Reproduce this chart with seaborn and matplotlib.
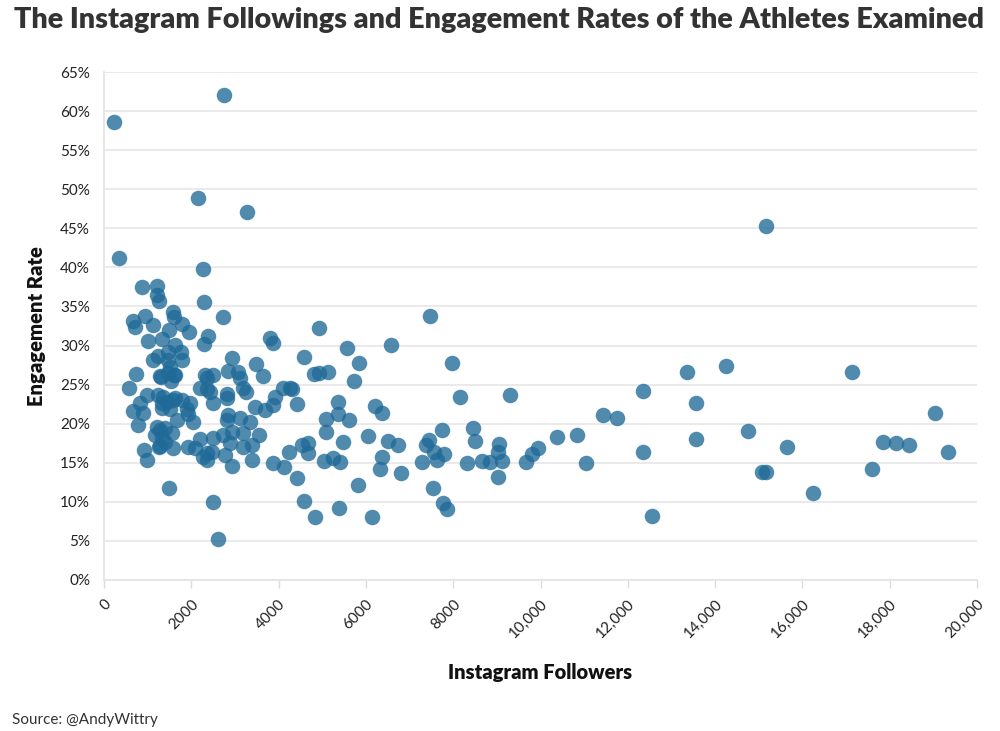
import matplotlib
matplotlib.use("Agg")
import matplotlib.pyplot as plt
import matplotlib.ticker as mticker
import seaborn as sns
import pandas as pd

# Instagram followers of each athlete
followers = [
    229, 2749, 344, 2154, 3276, 2268,
    871, 1214, 1214, 1260, 2291,
    939, 1581, 1604, 664, 710, 1123, 1787, 2726,
    1489, 1947, 2383, 2291, 1008, 1329, 1627,
    1466, 1764, 1237, 1123, 1466, 1787, 1512,
    733, 1604, 1306, 2314, 2497, 2360, 2932, 2841, 3070, 3116,
    1535, 573, 985, 1237, 1352, 1627, 2199, 2360, 2428, 2818, 2818, 3184, 3253,
    1787, 1970, 1329, 825, 664, 893, 1329, 1512, 1901, 2497, 1443, 1581,
    1924, 2039, 1672, 779, 1214, 2841, 2818, 3116,
    1168, 1283, 1397, 1558, 916, 985, 1260, 1397, 1581, 1924, 2085, 2199,
    2497, 2726, 2932, 2887, 2360, 2474, 2360, 2772, 2932, 1329, 1283, 2268,
    1283, 1466, 1627,
    1489, 2497, 2612,
    3803, 3872, 3482, 3643, 4101, 4261, 3918, 3872, 3459, 3688, 4422,
    3345, 3184, 3551, 3391, 3184, 3391, 3872, 4124, 4238,
    4926, 4582, 4811, 4926, 5132, 5567, 6575, 5842, 5727, 7468, 7973,
    4307, 5361, 5361, 5086, 5613, 6209, 6369, 8156,
    5086, 5475, 4536, 4674, 4674, 5040, 5246, 5407,
    6048, 6506, 6735, 6369, 6323, 6804,
    7743, 7446, 7377, 7560, 7789, 7629, 7285, 7537, 7766, 7858,
    4422, 4582, 4834, 5384, 5819, 6140,
    8454, 8499, 8316, 8660, 8843, 9049, 9026, 9118, 9026, 9301, 9668, 9805,
    9943, 10378, 10836, 11042, 11432, 11753, 12348, 12348, 12554,
    13356, 14250, 17136, 13562, 13562, 14754, 15647, 15074, 15166, 16243,
    17595, 19038, 17847, 18144, 18442, 19336, 15166,
]

# Engagement rate (%) of each athlete
engagement = [
    58.6, 62.1, 41.2, 48.9, 47.1, 39.8,
    37.5, 37.6, 36.5, 35.7, 35.6,
    33.8, 34.3, 33.7, 33.1, 32.4, 32.6, 32.8, 33.7,
    32.0, 31.7, 31.2, 30.2, 30.6, 30.8, 30.1,
    29.2, 29.2, 28.7, 28.2, 28.2, 28.2, 27.3,
    26.4, 26.2, 26.0, 26.2, 26.2, 25.8, 28.4, 26.8, 26.6, 25.8,
    25.5, 24.6, 23.7, 23.7, 23.4, 23.3, 24.6, 24.4, 24.1, 23.8, 23.3, 24.6, 24.1,
    23.0, 22.6, 22.6, 22.6, 21.6, 21.4, 22.0, 21.9, 21.9, 22.6, 22.8, 23.0,
    21.2, 20.2, 20.5, 19.8, 19.6, 21.1, 20.5, 20.7,
    18.6, 19.2, 19.4, 18.8, 16.6, 15.4, 17.0, 17.7, 16.9, 17.0, 16.9, 18.0,
    18.2, 18.6, 18.9, 17.5, 16.3, 16.4, 15.4, 16.0, 14.6, 18.2, 17.1, 15.7,
    26.1, 26.5, 26.2,
    11.8, 10.0, 5.2,
    30.9, 30.3, 27.6, 26.1, 24.6, 24.6, 23.4, 22.4, 22.1, 21.8, 22.5,
    20.2, 18.8, 18.6, 17.3, 17.0, 15.4, 15.0, 14.5, 16.4,
    32.2, 28.5, 26.4, 26.5, 26.6, 29.7, 30.1, 27.8, 25.5, 33.8, 27.8,
    24.4, 22.8, 21.2, 20.6, 20.5, 22.3, 21.4, 23.4,
    18.9, 17.7, 17.3, 17.5, 16.3, 15.2, 15.6, 15.1,
    18.4, 17.8, 17.3, 15.7, 14.2, 13.7,
    19.2, 17.9, 17.3, 16.4, 16.1, 15.4, 15.1, 11.8, 9.9, 9.1,
    13.1, 10.1, 8.1, 9.2, 12.2, 8.1,
    19.4, 17.8, 15.0, 15.2, 15.1, 17.4, 16.4, 15.2, 13.2, 23.7, 15.1, 16.1,
    16.9, 18.3, 18.5, 15.0, 21.1, 20.7, 24.2, 16.4, 8.2,
    26.6, 27.4, 26.6, 22.6, 18.0, 19.1, 17.0, 13.8, 13.8, 11.1,
    14.2, 21.4, 17.7, 17.5, 17.3, 16.4, 45.3,
]

x_ticks = [0, 2000, 4000, 6000, 8000, 10000, 12000, 14000, 16000, 18000, 20000]
x_tick_labels = ["0", "2000", "4000", "6000", "8000", "10,000", "12,000",
                 "14,000", "16,000", "18,000", "20,000"]
y_ticks = list(range(0, 66, 5))

title = "The Instagram Followings and Engagement Rates of the Athletes Examined"
x_label = "Instagram Followers"
y_label = "Engagement Rate"
source = "Source: @AndyWittry"

df = pd.DataFrame({"followers": followers, "engagement": engagement})

sns.set_theme(style="white")
plt.rcParams["font.family"] = ["Lato", "DejaVu Sans"]

fig = plt.figure(figsize=(10, 7.31), dpi=100)
ax = fig.add_axes([0.104, 0.2066, 0.873, 0.6949])

sns.scatterplot(data=df, x="followers", y="engagement", ax=ax,
                color="#1f6a98", alpha=0.78, s=125, linewidth=0, zorder=3)

ax.set_xlim(0, 20000)
ax.set_ylim(0, 65)
ax.set_xticks(x_ticks)
ax.set_xticklabels(x_tick_labels, rotation=45, ha="right", va="top",
                   rotation_mode="anchor", fontsize=11, color="#222222")
ax.set_yticks(y_ticks)
ax.yaxis.set_major_formatter(mticker.FuncFormatter(lambda v, p: f"{int(v)}%"))
for lab in ax.get_yticklabels():
    lab.set_fontsize(11)
    lab.set_color("#222222")

ax.grid(axis="y", color="#e6e6e6", linewidth=1.2, zorder=0)
ax.grid(axis="x", visible=False)
for side in ["top", "right"]:
    ax.spines[side].set_visible(False)
for side in ["left", "bottom"]:
    ax.spines[side].set_color("#e3e3e3")
    ax.spines[side].set_linewidth(1.2)
ax.tick_params(axis="x", which="major", length=6, width=1, color="#dcdcdc",
               bottom=True, pad=6)
ax.tick_params(axis="y", which="major", length=0, pad=10)

ax.set_xlabel(x_label, fontsize=14.5, fontweight="heavy", color="#111111", labelpad=16)
ax.set_ylabel(y_label, fontsize=14.5, fontweight="heavy", color="#111111", labelpad=10)

fig.text(0.499, 0.973, title, ha="center", va="center", fontsize=20.7,
         fontweight="heavy", color="#333333")
fig.text(0.012, 0.006, source, ha="left", va="bottom", fontsize=11,
         color="#333333")

fig.savefig("out.png", dpi=100)
